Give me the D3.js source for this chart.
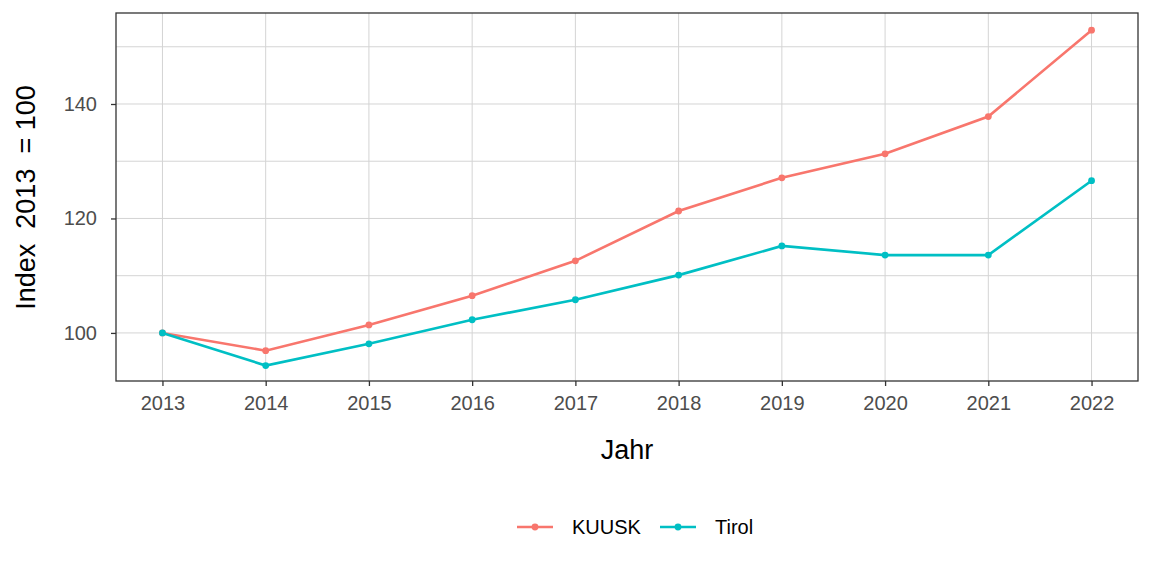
<!DOCTYPE html>
<html><head><meta charset="utf-8">
<script src="https://cdn.jsdelivr.net/npm/d3@7"></script>
<style>body{margin:0;background:#fff}svg{display:block}text{font-family:"Liberation Sans",Arial,sans-serif}</style>
</head><body><svg id="c" width="1152" height="576"></svg>
<script>
const years = [2013,2014,2015,2016,2017,2018,2019,2020,2021,2022];
const kuusk = [100,96.9,101.4,106.5,112.6,121.3,127.1,131.3,137.8,152.9];
const tirol = [100,94.3,98.1,102.3,105.8,110.1,115.2,113.6,113.6,126.6];
const seriesNames = ["KUUSK","Tirol"];
const colors = ["#F8766D","#00BFC4"];
const yTicks = [100,120,140];
const yMinor = [110,130,150];

const svg = d3.select("#c");
const L=116, R=1138, T=13, B=381;
const x = d3.scaleLinear().domain([2012.55,2022.45]).range([L,R]);
const y = d3.scaleLinear().domain([91.6,155.9]).range([B,T]);

const g = svg.append("g");
g.selectAll(".gmin").data(yMinor).join("line")
 .attr("x1",L).attr("x2",R).attr("y1",d=>y(d)).attr("y2",d=>y(d))
 .attr("stroke","#d4d4d4").attr("stroke-width",1);
g.selectAll(".gmaj").data(yTicks).join("line")
 .attr("x1",L).attr("x2",R).attr("y1",d=>y(d)).attr("y2",d=>y(d))
 .attr("stroke","#d4d4d4").attr("stroke-width",1);
g.selectAll(".gx").data(years).join("line")
 .attr("x1",d=>x(d)).attr("x2",d=>x(d)).attr("y1",T).attr("y2",B)
 .attr("stroke","#d4d4d4").attr("stroke-width",1);

const data = [kuusk,tirol];
const line = d3.line().x((d,i)=>x(years[i])).y(d=>y(d));
data.forEach((s,k)=>{
  g.append("path").datum(s).attr("d",line).attr("fill","none")
   .attr("stroke",colors[k]).attr("stroke-width",2.6);
  g.selectAll(".p"+k).data(s).join("circle")
   .attr("cx",(d,i)=>x(years[i])).attr("cy",d=>y(d)).attr("r",3.4)
   .attr("fill",colors[k]);
});

g.append("rect").attr("x",L).attr("y",T).attr("width",R-L).attr("height",B-T)
 .attr("fill","none").attr("stroke","#333").attr("stroke-width",1.3);

const xa = svg.append("g").attr("transform",`translate(0,${B})`)
 .call(d3.axisBottom(x).tickValues(years).tickFormat(d3.format("d")).tickSize(5).tickPadding(5));
const ya = svg.append("g").attr("transform",`translate(${L},0)`)
 .call(d3.axisLeft(y).tickValues(yTicks).tickSize(5).tickPadding(14));
[xa,ya].forEach(a=>{
  a.select(".domain").remove();
  a.selectAll(".tick line").attr("stroke","#333").attr("stroke-width",1.3);
  a.selectAll(".tick text").attr("fill","#4d4d4d").style("font-size","20px");
});
xa.selectAll(".tick text").attr("dy","0.95em");

svg.append("text").attr("x",627).attr("y",459).attr("text-anchor","middle")
 .style("font-size","27px").attr("fill","#000").text("Jahr");
svg.append("text").attr("transform",`translate(35,${197.5}) rotate(-90)`)
 .attr("text-anchor","middle").style("font-size","27px").attr("fill","#000")
 .attr("xml:space","preserve").style("white-space","pre").text("Index  2013  = 100");

const legX = [517,660], legY = 527;
seriesNames.forEach((n,k)=>{
  const lg = svg.append("g");
  lg.append("line").attr("x1",legX[k]).attr("x2",legX[k]+36).attr("y1",legY).attr("y2",legY)
    .attr("stroke",colors[k]).attr("stroke-width",2.6);
  lg.append("circle").attr("cx",legX[k]+18).attr("cy",legY).attr("r",3.4).attr("fill",colors[k]);
  lg.append("text").attr("x",legX[k]+55).attr("y",legY).attr("dy","0.36em")
    .style("font-size","20px").attr("fill","#000").text(n);
});
</script></body></html>
